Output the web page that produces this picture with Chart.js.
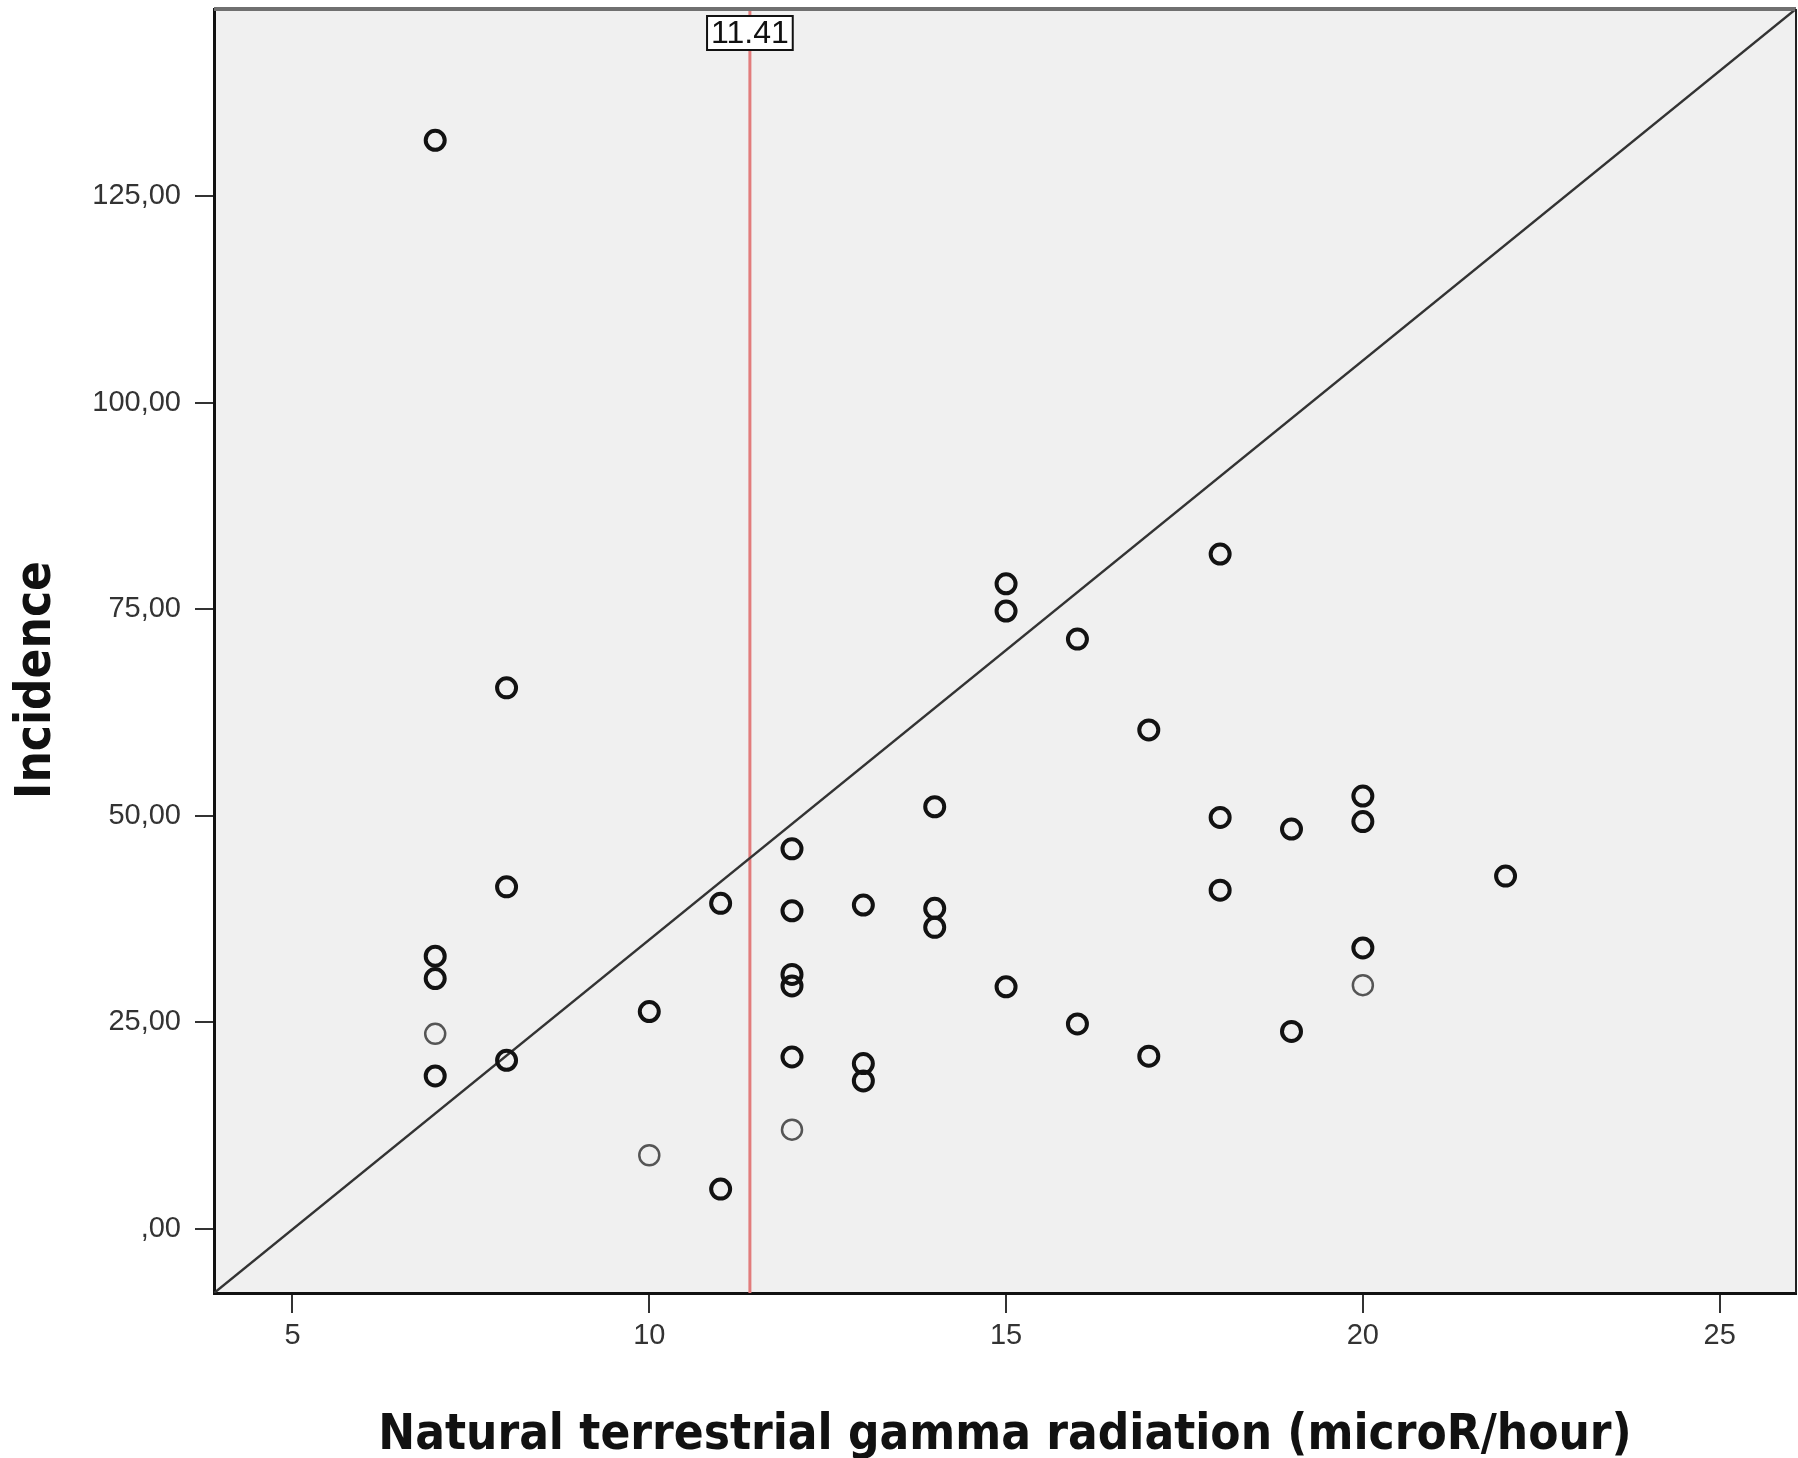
<!DOCTYPE html>
<html>
<head>
<meta charset="utf-8">
<script src="https://cdn.jsdelivr.net/npm/chart.js@4.4.0/dist/chart.umd.min.js"></script>
<style>
  html, body { margin: 0; padding: 0; background: #fff; overflow: hidden; }
  #wrap { width: 1798px; height: 1458px; position: relative; }
  #gammaChart { display: block; }
</style>
</head>
<body>
<div id="wrap"><canvas id="gammaChart"></canvas></div>
<script>
// cases drawn with a heavy outline
const gammaX = [7, 7, 7, 7, 8, 8, 8, 10, 11, 11, 12, 12, 12, 12, 12, 13, 13, 13,
  14, 14, 14, 15, 15, 15, 16, 16, 17, 17, 18, 18, 18, 19, 19, 20, 20, 20, 22];
const incidence = [131.8, 33.0, 30.3, 18.5, 65.5, 41.4, 20.4, 26.3, 39.4, 4.8,
  46.0, 38.5, 30.8, 29.4, 20.8, 39.2, 20.0, 17.9,
  51.1, 38.8, 36.5, 78.1, 74.8, 29.3, 71.4, 24.8, 60.4, 20.9,
  81.7, 49.8, 41.0, 48.4, 23.9, 52.4, 49.3, 34.0, 42.7];
// cases drawn with a light outline
const faintGammaX = [7, 10, 12, 20];
const faintIncidence = [23.6, 8.9, 12.0, 29.5];

const meanGamma = 11.41;
const xRange = [3.9, 26.07];
const yRange = [-7.78, 147.7];
const xTicks = [5, 10, 15, 20, 25];
const yTicks = [0, 25, 50, 75, 100, 125];
const yTickLabels = [",00", "25,00", "50,00", "75,00", "100,00", "125,00"];

const points = gammaX.map((x, i) => ({ x: x, y: incidence[i] }));
const faintPoints = faintGammaX.map((x, i) => ({ x: x, y: faintIncidence[i] }));

const tickFont = { family: "'Liberation Sans', Arial, sans-serif", size: 29 };
const titleFamily = "'DejaVu Sans Condensed', 'DejaVu Sans', Verdana, sans-serif";

const plotFrame = {
  id: "plotFrame",
  beforeDraw(chart) {
    const { ctx, chartArea: a } = chart;
    ctx.save();
    ctx.fillStyle = "#f0f0f0";
    ctx.fillRect(a.left, a.top, a.right - a.left, a.bottom - a.top);
    ctx.restore();
  },
  afterDraw(chart) {
    const { ctx, chartArea: a, scales } = chart;
    ctx.save();
    // top and right frame
    ctx.strokeStyle = "#707070";
    ctx.lineWidth = 4;
    ctx.beginPath();
    ctx.moveTo(a.left, a.top);
    ctx.lineTo(a.right, a.top);
    ctx.stroke();
    ctx.strokeStyle = "#222";
    ctx.lineWidth = 2;
    ctx.beginPath();
    ctx.moveTo(a.right, a.top);
    ctx.lineTo(a.right, a.bottom);
    ctx.stroke();

    // label box for the mean line
    const mx = scales.x.getPixelForValue(meanGamma);
    const label = meanGamma.toFixed(2);
    ctx.font = "32px 'Liberation Sans', Arial, sans-serif";
    const w = ctx.measureText(label).width + 8;
    const h = 34;
    const top = a.top + 7;
    ctx.fillStyle = "#fff";
    ctx.fillRect(mx - w / 2, top, w, h);
    ctx.strokeStyle = "#111";
    ctx.lineWidth = 2;
    ctx.strokeRect(mx - w / 2, top, w, h);
    ctx.fillStyle = "#111";
    ctx.textAlign = "center";
    ctx.textBaseline = "middle";
    ctx.fillText(label, mx, top + h / 2 + 1);

    // y axis title
    ctx.translate(37, 680);
    ctx.rotate(-Math.PI / 2);
    ctx.font = "bold 49px " + titleFamily;
    ctx.fillText("Incidence", 0, 0);
    ctx.restore();
  }
};

const ctx = document.getElementById("gammaChart").getContext("2d");
const chart = new Chart(ctx, {
  type: "scatter",
  data: {
    datasets: [
      {
        data: points,
        borderColor: "#121212",
        backgroundColor: "rgba(0,0,0,0)",
        borderWidth: 4,
        pointRadius: 9.5,
        pointStyle: "circle",
      },
      {
        data: faintPoints,
        borderColor: "#555",
        backgroundColor: "rgba(0,0,0,0)",
        borderWidth: 2.5,
        pointRadius: 10,
        pointStyle: "circle",
      },
      {
        // diagonal reference line, corner to corner
        data: [{ x: xRange[0], y: yRange[0] }, { x: xRange[1], y: yRange[1] }],
        showLine: true,
        borderColor: "#333",
        borderWidth: 2.5,
        pointRadius: 0,
      },
      {
        // mean of x
        data: [{ x: meanGamma, y: yRange[0] }, { x: meanGamma, y: yRange[1] }],
        showLine: true,
        borderColor: "#e27c7c",
        borderWidth: 3,
        pointRadius: 0,
      },
    ],
  },
  options: {
    responsive: true,
    maintainAspectRatio: false,
    animation: false,
    layout: { autoPadding: false, padding: { top: 9, right: 2, left: 0, bottom: 0 } },
    plugins: { legend: { display: false }, tooltip: { enabled: false } },
    scales: {
      x: {
        type: "linear",
        min: xRange[0],
        max: xRange[1],
        afterBuildTicks: (scale) => { scale.ticks = xTicks.map(v => ({ value: v })); },
        afterFit: (scale) => {
          scale.height = 165;
          scale.paddingLeft = 0;
          scale.paddingRight = 0;
        },
        border: { display: true, color: "#111", width: 3 },
        grid: { drawOnChartArea: false, drawTicks: true, tickLength: 20, color: "#333", lineWidth: 2 },
        ticks: { font: tickFont, color: "#333", padding: 6, maxRotation: 0 },
        title: {
          display: true,
          text: "Natural terrestrial gamma radiation (microR/hour)",
          color: "#111",
          font: { family: titleFamily, size: 49, weight: "bold", lineHeight: 1 },
          padding: { top: 0, bottom: -3 },
        },
      },
      y: {
        type: "linear",
        min: yRange[0],
        max: yRange[1],
        afterBuildTicks: (scale) => { scale.ticks = yTicks.map(v => ({ value: v })); },
        afterFit: (scale) => {
          scale.width = 214;
          scale.paddingTop = 0;
          scale.paddingBottom = 0;
        },
        border: { display: true, color: "#111", width: 3 },
        grid: { drawOnChartArea: false, drawTicks: true, tickLength: 19, color: "#333", lineWidth: 2 },
        ticks: {
          font: tickFont,
          color: "#333",
          padding: 14,
          callback: (value) => yTickLabels[yTicks.indexOf(value)],
        },
      },
    },
  },
  plugins: [plotFrame],
});
</script>
</body>
</html>
